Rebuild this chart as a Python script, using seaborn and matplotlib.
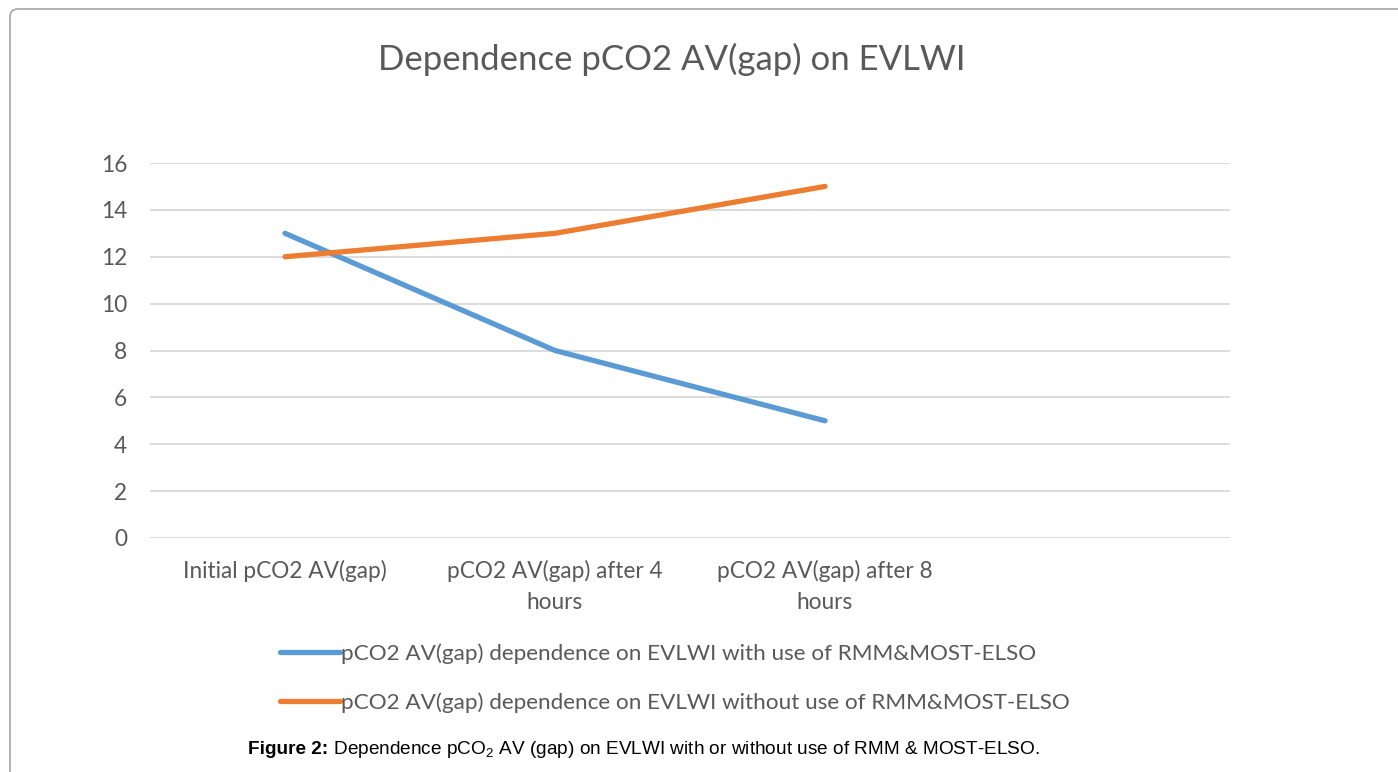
import numpy as np
import pandas as pd
import seaborn as sns
import matplotlib.pyplot as plt
import matplotlib.patches as mpatches
from matplotlib.transforms import IdentityTransform

# chart values
categories = ["Initial pCO2 AV(gap)", "pCO2 AV(gap) after 4\nhours", "pCO2 AV(gap) after 8\nhours"]
with_rmm = [13, 8, 5]
without_rmm = [12, 13, 15]
series_names = ["pCO2 AV(gap) dependence on EVLWI with use of RMM&MOST-ELSO",
                "pCO2 AV(gap) dependence on EVLWI without use of RMM&MOST-ELSO"]
y_ticks = [0, 2, 4, 6, 8, 10, 12, 14, 16]
n_slots = 4  # the source chart keeps an empty fourth category

df = pd.DataFrame({
    "pos": list(range(len(categories))) * 2,
    "value": with_rmm + without_rmm,
    "series": [series_names[0]] * len(categories) + [series_names[1]] * len(categories),
})

sns.set_theme(style="white")
plt.rcParams['font.family'] = ['Lato', 'DejaVu Sans']
plt.rcParams['mathtext.fontset'] = 'custom'
plt.rcParams['mathtext.rm'] = 'Liberation Sans'

grey = "#595959"
colors = ["#5B9BD5", "#ED7D31"]
fig = plt.figure(figsize=(13.98, 7.72), dpi=100)
ax = fig.add_axes([150 / 1398, 1 - 538 / 772, 1080 / 1398, 375 / 772])

sns.lineplot(data=df, x="pos", y="value", hue="series",
             palette=colors, linewidth=3.8, ax=ax,
             legend=False, solid_capstyle="round")

ax.set_xlim(-0.5, n_slots - 0.5)
ax.set_ylim(0, 16)
ax.set_yticks(y_ticks)
ax.set_xticks(range(len(categories)))
ax.set_xticklabels(categories, linespacing=1.55)
ax.tick_params(axis="both", colors=grey, labelsize=16.3, length=0)
ax.tick_params(axis="x", pad=16)
ax.tick_params(axis="y", pad=16.5)
ax.set_xlabel("")
ax.set_ylabel("")
ax.grid(axis="y", color="#d9d9d9", linewidth=1.3)
for s in ax.spines.values():
    s.set_visible(False)

ax.set_title("Dependence pCO2 AV(gap) on EVLWI", fontsize=25, color=grey, pad=0,
             x=(672 - 150) / 1080, y=1 + (163 - 57) / 375 - 0.035)

handles = [plt.Line2D([], [], color=c, linewidth=3.8, solid_capstyle="round")
           for c in colors]
leg = fig.legend(handles, series_names, loc="upper left",
                 bbox_to_anchor=(280 / 1398, 1 - 643 / 772), frameon=False,
                 fontsize=16.2, handlelength=2.67, handletextpad=0.04,
                 labelspacing=1.28, borderaxespad=0, borderpad=0)
for t in leg.get_texts():
    t.set_color(grey)

# caption: bold label followed by regular text
cap_y = 1 - 750 / 772
bold = fig.text(248 / 1398, cap_y, "Figure 2:", fontsize=13.7, family="Liberation Sans",
                weight="bold", color="black", va="center", ha="left")
renderer = fig.canvas.get_renderer()
bb = bold.get_window_extent(renderer)
fig.text(bb.x1 / 1398, cap_y,
         " Dependence pCO$_2$ AV (gap) on EVLWI with or without use of RMM & MOST-ELSO.",
         fontsize=13.7, family="Liberation Sans", color="black", va="center", ha="left")

border = mpatches.FancyBboxPatch((10, -30), 1430, 793, boxstyle="round,pad=0,rounding_size=8",
                                 transform=IdentityTransform(), fill=False,
                                 edgecolor="#a6a6a6", linewidth=1.2)
fig.patches.append(border)

fig.savefig("out.png", dpi=100)
